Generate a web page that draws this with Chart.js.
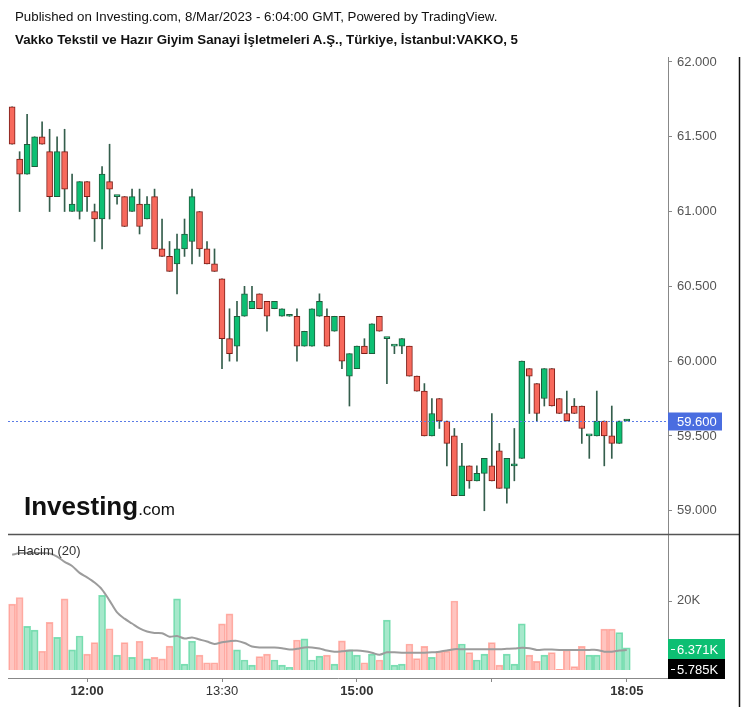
<!DOCTYPE html>
<html>
<head>
<meta charset="utf-8">
<script src="https://cdn.jsdelivr.net/npm/chart.js@4.4.0/dist/chart.umd.min.js"></script>
<style>
  body { margin: 0; background: #fff; font-family: 'Liberation Sans', Arial, sans-serif; }
  #wrap { position: relative; width: 747px; height: 707px; overflow: hidden; }
  #chart { position: absolute; left: 0; top: 0; }
  .hdr { position: absolute; left: 15px; font-size: 13.3px; color: #111; white-space: nowrap; }
</style>
</head>
<body>
<div id="wrap">
  <canvas id="chart" width="747" height="707"></canvas>
  <div class="hdr" style="top:9px">Published on Investing.com, 8/Mar/2023 - 6:04:00 GMT, Powered by TradingView.</div>
  <div class="hdr" style="top:32px;font-weight:bold">Vakko Tekstil ve Hazır Giyim Sanayi İşletmeleri A.Ş., Türkiye, İstanbul:VAKKO, 5</div>
</div>
<script>
// 5 minute candles, 11:10 -> 18:05
const times = ['11:10','11:15','11:20','11:25','11:30','11:35','11:40','11:45','11:50','11:55',
  '12:00','12:05','12:10','12:15','12:20','12:25','12:30','12:35','12:40','12:45','12:50','12:55',
  '13:00','13:05','13:10','13:15','13:20','13:25','13:30','13:35','13:40','13:45','13:50','13:55',
  '14:00','14:05','14:10','14:15','14:20','14:25','14:30','14:35','14:40','14:45','14:50','14:55',
  '15:00','15:05','15:10','15:15','15:20','15:25','15:30','15:35','15:40','15:45','15:50','15:55',
  '16:00','16:05','16:10','16:15','16:20','16:25','16:30','16:35','16:40','16:45','16:50','16:55',
  '17:00','17:05','17:10','17:15','17:20','17:25','17:30','17:35','17:40','17:45','17:50','17:55',
  '18:05'];

const opens = [61.70,61.35,61.25,61.30,61.50,61.40,61.10,61.40,61.00,61.00,61.20,61.00,60.95,61.20,61.10,
  61.10,61.00,61.05,60.95,61.10,60.75,60.70,60.65,60.75,60.80,61.00,60.75,60.65,60.55,60.15,60.10,60.30,
  60.35,60.45,60.40,60.35,60.30,60.30,60.30,60.10,60.10,60.30,60.30,60.20,60.30,59.90,59.95,60.10,60.05,
  60.30,60.15,60.10,60.10,60.10,59.90,59.80,59.50,59.75,59.60,59.50,59.10,59.30,59.20,59.25,59.30,59.40,
  59.15,59.30,59.35,59.95,59.85,59.75,59.95,59.75,59.65,59.70,59.70,59.50,59.50,59.60,59.50,59.45,59.60];
const highs = [61.70,61.40,61.65,61.50,61.60,61.55,61.50,61.55,61.25,61.20,61.20,61.05,61.30,61.45,61.10,
  61.10,61.15,61.15,61.10,61.15,60.95,60.80,60.85,60.95,61.15,61.00,60.80,60.75,60.55,60.35,60.40,60.50,
  60.50,60.45,60.40,60.40,60.35,60.30,60.35,60.20,60.35,60.45,60.35,60.30,60.30,60.05,60.10,60.15,60.25,
  60.30,60.15,60.10,60.15,60.10,59.90,59.85,59.75,59.75,59.60,59.55,59.45,59.30,59.30,59.35,59.65,59.45,
  59.35,59.55,60.00,59.95,59.85,59.95,59.95,59.75,59.80,59.75,59.70,59.50,59.80,59.60,59.70,59.60,59.60];
const lows = [61.45,61.00,61.25,61.30,61.45,61.00,61.10,61.00,61.00,60.95,61.00,60.80,60.75,60.95,61.05,
  60.90,61.00,60.85,60.95,60.75,60.70,60.60,60.45,60.70,60.65,60.70,60.65,60.60,59.95,60.00,60.00,60.30,
  60.35,60.35,60.20,60.35,60.30,60.30,60.00,60.10,60.10,60.30,60.10,60.20,59.95,59.70,59.95,60.05,60.05,
  60.20,59.85,60.05,60.05,59.90,59.80,59.50,59.50,59.55,59.30,59.10,59.10,59.15,59.20,59.00,59.20,59.15,
  59.05,59.20,59.35,59.65,59.60,59.70,59.70,59.65,59.60,59.65,59.45,59.35,59.50,59.30,59.35,59.45,59.60];
const closes = [61.45,61.25,61.45,61.50,61.45,61.10,61.40,61.15,61.05,61.20,61.10,60.95,61.25,61.15,61.10,
  60.90,61.10,60.90,61.05,60.75,60.70,60.60,60.75,60.85,61.10,60.75,60.65,60.60,60.15,60.05,60.30,60.45,
  60.40,60.35,60.30,60.40,60.35,60.30,60.10,60.20,60.35,60.40,60.10,60.30,60.00,60.05,60.10,60.05,60.25,
  60.20,60.15,60.10,60.15,59.90,59.80,59.50,59.65,59.60,59.45,59.10,59.30,59.20,59.25,59.35,59.20,59.15,
  59.35,59.30,60.00,59.90,59.65,59.95,59.70,59.65,59.60,59.65,59.55,59.50,59.60,59.50,59.45,59.60,59.60];

// volume in thousands and its 20 period average
const volumes = [19.0,20.9,12.6,11.5,5.4,13.75,9.4,20.5,5.8,9.8,4.6,7.9,21.5,11.9,4.3,7.9,3.65,8.3,3.2,3.65,
  3.2,6.9,20.5,1.7,8.3,4.3,2.1,2.1,13.3,16.2,5.8,2.9,1.4,3.85,4.6,2.9,1.4,0.8,8.65,9.0,2.9,4.0,4.3,1.7,
  8.4,5.8,4.3,2.1,4.6,2.9,14.4,1.4,1.7,7.5,3.3,6.8,3.65,5.4,5.4,19.9,7.5,5.0,2.9,4.6,7.9,1.4,4.6,1.7,
  13.3,4.3,2.5,4.3,5.0,0.2,5.8,1.0,6.8,4.3,4.3,11.8,11.8,10.8,6.371];
const volMA = [33.2,33.7,33.7,33.7,33.7,33.6,32.7,31.2,30.0,28.0,26.7,25.2,23.2,20.0,16.6,14.8,13.4,12.0,
  11.1,10.7,10.6,9.6,9.8,9.1,9.4,8.8,8.2,7.5,8.0,8.3,8.4,7.8,6.8,6.5,6.5,6.5,6.3,5.9,6.1,6.5,6.5,6.2,
  5.6,5.3,5.4,5.6,5.6,5.4,5.0,4.4,5.1,5.1,5.0,5.0,5.0,5.0,5.1,5.3,5.6,6.0,6.0,6.0,6.0,6.0,6.0,6.0,6.1,
  6.2,6.4,6.3,5.8,5.9,5.9,5.8,5.8,5.8,5.8,5.8,5.8,5.3,5.3,5.6,5.785];

const priceTicks = [59, 59.5, 60, 60.5, 61, 61.5, 62];
const timeTickIdx = [10, 28, 46, 64, 82];
const timeTickText = ['12:00', '13:30', '15:00', '', '18:05'];
const boldTimes = ['12:00', '15:00', '18:05'];
const lastPrice = 59.6;
const volLabels = ['6.371K', '5.785K'];

const FONT = "'Liberation Sans', Arial, sans-serif";
const UP = '#0dbf73', DOWN = '#f7695c';
const UP_EDGE = '#1f5c3c', DOWN_EDGE = '#7c1d17';

const isUp = i => closes[i] >= opens[i];

const wickData = times.map((t, i) => ({ x: i, y: [lows[i], highs[i]] }));
const bodyData = times.map((t, i) => ({ x: i, y: [Math.min(opens[i], closes[i]), Math.max(opens[i], closes[i])] }));
const volData = volumes.map((v, i) => ({ x: i, y: v }));
const maData = volMA.map((v, i) => ({ x: i, y: v }));

const overlay = {
  id: 'overlay',
  beforeDatasetsDraw(chart) {
    const ctx = chart.ctx;
    ctx.save();
    ctx.fillStyle = '#111';
    ctx.textBaseline = 'alphabetic';
    ctx.font = 'bold 26px ' + FONT;
    ctx.fillText('Investing', 24, 515);
    const w = ctx.measureText('Investing').width;
    ctx.font = '17px ' + FONT;
    ctx.fillText('.com', 24 + w, 515);
    ctx.restore();
  },
  afterDatasetsDraw(chart) {
    const ctx = chart.ctx;
    const area = chart.chartArea;
    const y = chart.scales.y;
    const yv = chart.scales.yv;
    ctx.save();

    // top of price scale is cut at the pane edge
    ctx.fillStyle = '#fff';
    ctx.fillRect(area.right + 1, 48, 70, 9);

    // last price dotted line
    const py = Math.round(y.getPixelForValue(lastPrice)) + 0.5;
    ctx.strokeStyle = '#5a7be6';
    ctx.lineWidth = 1;
    ctx.setLineDash([2, 2]);
    ctx.beginPath();
    ctx.moveTo(area.left, py);
    ctx.lineTo(area.right, py);
    ctx.stroke();
    ctx.setLineDash([]);

    // pane separator and right frame
    ctx.strokeStyle = '#555';
    ctx.lineWidth = 1.5;
    ctx.beginPath();
    ctx.moveTo(area.left, 534.5);
    ctx.lineTo(739, 534.5);
    ctx.stroke();
    ctx.strokeStyle = '#111';
    ctx.lineWidth = 1.5;
    ctx.beginPath();
    ctx.moveTo(739.5, 57);
    ctx.lineTo(739.5, 707);
    ctx.stroke();

    // price label
    ctx.fillStyle = '#4a6de0';
    ctx.fillRect(area.right, py - 9, 54, 18);
    ctx.fillStyle = '#fff';
    ctx.font = '13px ' + FONT;
    ctx.textBaseline = 'middle';
    ctx.fillText(lastPrice.toFixed(3), area.right + 9, py + 1);

    // volume pane texts
    ctx.fillStyle = '#333';
    ctx.fillText('Hacim (20)', 17, 551);
    const y20 = yv.getPixelForValue(20);
    ctx.fillStyle = '#555';
    ctx.fillText('20K', 677, y20);
    ctx.strokeStyle = '#888';
    ctx.lineWidth = 1;
    ctx.beginPath();
    ctx.moveTo(area.right, Math.round(y20) + 0.5);
    ctx.lineTo(area.right + 4, Math.round(y20) + 0.5);
    ctx.stroke();

    // volume value labels
    const boxes = [[639, '#0dbf73'], [659, '#000']];
    boxes.forEach((b, k) => {
      ctx.fillStyle = b[1];
      ctx.fillRect(area.right, b[0], 57, 20);
      ctx.fillStyle = '#fff';
      ctx.fillRect(area.right + 3, b[0] + 10, 4, 1);
      ctx.fillText(volLabels[k], area.right + 9, b[0] + 11);
    });
    ctx.restore();
  }
};

new Chart(document.getElementById('chart'), {
  type: 'bar',
  data: {
    datasets: [
      {
        label: 'wick',
        data: wickData,
        yAxisID: 'y',
        backgroundColor: '#345e4c',
        barThickness: 1,
        grouped: false,
        minBarLength: 1,
        order: 3
      },
      {
        label: 'body',
        data: bodyData,
        yAxisID: 'y',
        backgroundColor: times.map((t, i) => isUp(i) ? UP : DOWN),
        borderColor: times.map((t, i) => isUp(i) ? UP_EDGE : DOWN_EDGE),
        borderWidth: 1,
        borderSkipped: false,
        barThickness: 6,
        grouped: false,
        minBarLength: 2,
        order: 2
      },
      {
        label: 'volume',
        data: volData,
        yAxisID: 'yv',
        backgroundColor: times.map((t, i) => isUp(i) ? 'rgba(93,214,160,0.55)' : 'rgba(255,140,130,0.5)'),
        borderColor: times.map((t, i) => isUp(i) ? '#7fe0b5' : '#ffb3ab'),
        borderWidth: 1,
        borderSkipped: 'start',
        barThickness: 7,
        grouped: false,
        order: 5
      },
      {
        type: 'line',
        label: 'ma',
        data: maData,
        yAxisID: 'yv',
        borderColor: '#9c9c9c',
        borderWidth: 2,
        pointRadius: 0,
        tension: 0.3,
        order: 4
      }
    ]
  },
  options: {
    responsive: false,
    animation: false,
    layout: { padding: { top: 57, left: 8, right: 0, bottom: 0 } },
    plugins: { legend: { display: false }, tooltip: { enabled: false } },
    scales: {
      x: {
        type: 'linear',
        offset: false,
        min: -0.55,
        max: 87.5,
        afterFit: s => { s.height = 29; },
        afterBuildTicks: s => { s.ticks = timeTickIdx.map(v => ({ value: v })); },
        grid: { offset: false, drawOnChartArea: false, tickLength: 4, color: '#888' },
        border: { display: true, color: '#888' },
        ticks: {
          autoSkip: false,
          maxRotation: 0,
          padding: 2,
          color: '#333',
          callback: (v, i) => timeTickText[i],
          font: c => ({
            family: FONT,
            size: 13,
            weight: boldTimes.includes(times[c.tick ? c.tick.value : 0]) ? 'bold' : 'normal'
          })
        }
      },
      y: {
        position: 'right',
        min: 57.882,
        max: 62.033,
        afterFit: s => { s.width = 79; },
        afterBuildTicks: s => { s.ticks = priceTicks.map(v => ({ value: v })); },
        grid: { drawOnChartArea: false, tickLength: 4, color: '#888' },
        border: { display: true, color: '#888' },
        ticks: {
          padding: 5,
          color: '#555',
          font: { family: FONT, size: 13 },
          callback: v => v.toFixed(3)
        }
      },
      yv: {
        display: false,
        min: -2.3,
        max: 176.7
      }
    }
  },
  plugins: [overlay]
});
</script>
</body>
</html>
